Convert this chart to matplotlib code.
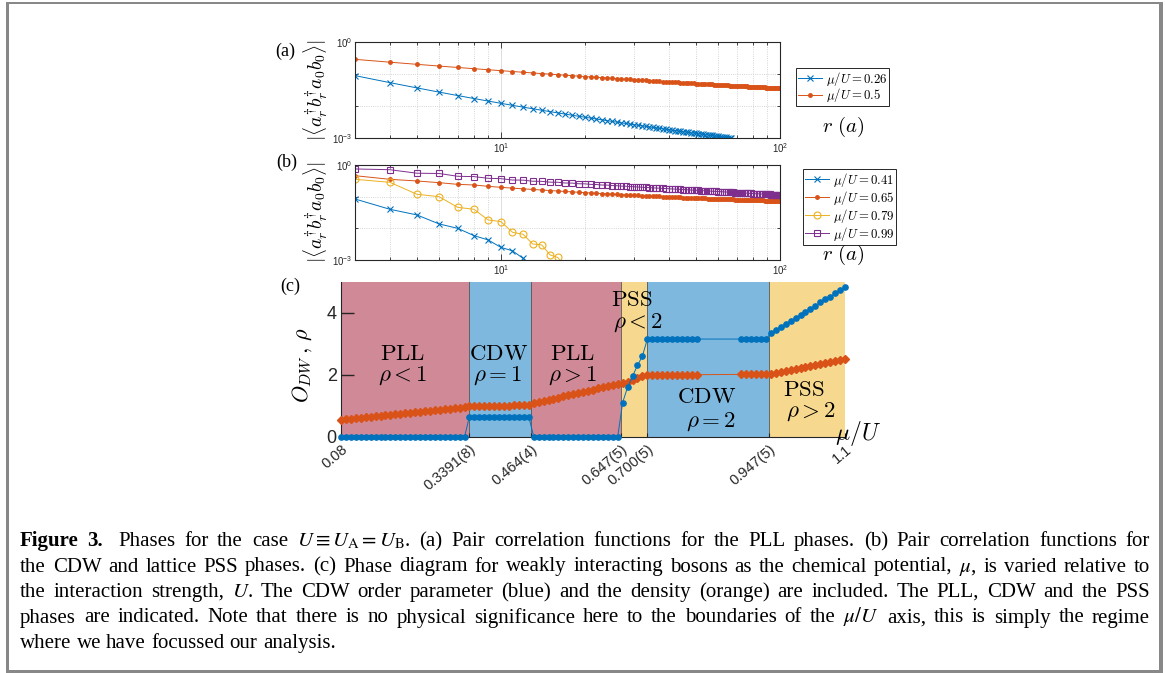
import matplotlib
matplotlib.use('Agg')
import matplotlib.pyplot as plt
from matplotlib.ticker import FixedLocator, NullFormatter
from matplotlib.patches import Rectangle

W, H = 1165, 673

# ---------------- data ----------------
# (a) pair correlations, r = 3 .. 100
r_all = list(range(3, 101))
r_a_026 = list(range(3, 68))
corr_a_026 = [0.0891, 0.0537, 0.0368, 0.0272, 0.0212, 0.01714, 0.01427, 0.01213,
              0.01050, 0.00923, 0.00820, 0.00736, 0.00666, 0.00608, 0.00558, 0.00515, 0.00478, 0.00445,
              0.00417, 0.00391, 0.00369, 0.00348, 0.00330, 0.00313, 0.00298, 0.00284, 0.00272, 0.00260,
              0.00250, 0.00240, 0.00231, 0.00222, 0.00214, 0.00207, 0.00200, 0.00194, 0.00187, 0.00182,
              0.00176, 0.00171, 0.00167, 0.00162, 0.00158, 0.00154, 0.00150, 0.00146, 0.00143, 0.00139,
              0.00136, 0.00133, 0.00130, 0.00127, 0.00125, 0.00122, 0.00120, 0.00117, 0.00115, 0.00113,
              0.00111, 0.00109, 0.00107, 0.00105, 0.00103, 0.00102, 0.00100]
corr_a_050 = [0.287, 0.234, 0.2006, 0.1773, 0.1600, 0.1466, 0.1359, 0.1271,
              0.1197, 0.1133, 0.1079, 0.1030, 0.0989, 0.0951, 0.0917, 0.0886, 0.0858, 0.0833,
              0.0809, 0.0788, 0.0768, 0.0750, 0.0732, 0.0716, 0.0701, 0.0687, 0.0674, 0.0661,
              0.0649, 0.0638, 0.0627, 0.0617, 0.0607, 0.0598, 0.0589, 0.0581, 0.0573, 0.0565,
              0.0557, 0.0550, 0.0544, 0.0537, 0.0531, 0.0525, 0.0519, 0.0513, 0.0507, 0.0502,
              0.0497, 0.0492, 0.0487, 0.0483, 0.0478, 0.0474, 0.0470, 0.0465, 0.0461, 0.0457,
              0.0454, 0.0450, 0.0446, 0.0443, 0.0439, 0.0436, 0.0433, 0.0430, 0.0426, 0.0423,
              0.0420, 0.0418, 0.0415, 0.0412, 0.0409, 0.0407, 0.0404, 0.0401, 0.0399, 0.0397,
              0.0394, 0.0392, 0.0390, 0.0387, 0.0385, 0.0383, 0.0381, 0.0379, 0.0377, 0.0375,
              0.0373, 0.0371, 0.0369, 0.0367, 0.0365, 0.0363, 0.0361, 0.0360, 0.0358, 0.0356]

# (b) pair correlations
r_b_041 = list(range(3, 14))
corr_b_041 = [0.0845, 0.040, 0.0265, 0.0138, 0.0100, 0.0059, 0.0043, 0.0025, 0.00195, 0.00113, 0.00065]
r_b_079 = list(range(3, 18))
corr_b_079 = [0.353, 0.284, 0.119, 0.100, 0.046, 0.040, 0.0184, 0.0163, 0.0075, 0.0065,
              0.0032, 0.0030, 0.00145, 0.0012, 0.00055]
corr_b_065 = [0.460, 0.353, 0.313, 0.277, 0.245, 0.234, 0.212, 0.197,
              0.1862, 0.1769, 0.1690, 0.1621, 0.1560, 0.1506, 0.1459, 0.1416, 0.1376, 0.1341,
              0.1309, 0.1280, 0.1253, 0.1227, 0.1204, 0.1182, 0.1162, 0.1143, 0.1125, 0.1108,
              0.1092, 0.1078, 0.1064, 0.1050, 0.1038, 0.1026, 0.1014, 0.1003, 0.0993, 0.0983,
              0.0974, 0.0965, 0.0956, 0.0947, 0.0939, 0.0932, 0.0924, 0.0917, 0.0911, 0.0904,
              0.0897, 0.0891, 0.0885, 0.0880, 0.0874, 0.0869, 0.0863, 0.0858, 0.0854, 0.0849,
              0.0844, 0.0840, 0.0835, 0.0831, 0.0827, 0.0823, 0.0819, 0.0815, 0.0811, 0.0808,
              0.0804, 0.0801, 0.0797, 0.0794, 0.0791, 0.0788, 0.0785, 0.0782, 0.0779, 0.0776,
              0.0774, 0.0771, 0.0768, 0.0766, 0.0763, 0.0761, 0.0759, 0.0756, 0.0754, 0.0752,
              0.0749, 0.0747, 0.0745, 0.0743, 0.0741, 0.0739, 0.0737, 0.0735, 0.0733, 0.0731]
corr_b_099 = [0.75, 0.71, 0.55, 0.54, 0.44, 0.43, 0.38, 0.37,
              0.335, 0.333, 0.307, 0.305, 0.287, 0.285, 0.270, 0.268, 0.256, 0.254,
              0.244, 0.242, 0.233, 0.232, 0.224, 0.222, 0.215, 0.214, 0.208, 0.206,
              0.2018, 0.1987, 0.1956, 0.1927, 0.1900, 0.1873, 0.1848, 0.1823, 0.1800, 0.1777,
              0.1755, 0.1734, 0.1714, 0.1694, 0.1675, 0.1657, 0.1639, 0.1622, 0.1605, 0.1589,
              0.1573, 0.1558, 0.1543, 0.1529, 0.1515, 0.1501, 0.1488, 0.1476, 0.1463, 0.1451,
              0.1439, 0.1427, 0.1416, 0.1405, 0.1394, 0.1383, 0.1373, 0.1363, 0.1353, 0.1343,
              0.1334, 0.1324, 0.1315, 0.1306, 0.1297, 0.1289, 0.1280, 0.1272, 0.1264, 0.1256,
              0.1248, 0.1241, 0.1233, 0.1226, 0.1219, 0.1211, 0.1204, 0.1197, 0.1191, 0.1184,
              0.1178, 0.1171, 0.1165, 0.1159, 0.1153, 0.1147, 0.1141, 0.1135, 0.1129, 0.1124]

# (c) phase diagram
mu_c = [k / 100 for k in range(8, 81)] + [k / 100 for k in range(89, 111)]
odw_c = ([0.0] * 26 + [0.65] * 13 + [0.0] * 18 +
         [1.10, 1.60, 1.95, 2.30, 2.60] + [3.15] * 11 + [3.15] * 6 +
         [3.34, 3.44, 3.54, 3.64, 3.73, 3.83, 3.93, 4.03, 4.13, 4.23, 4.33, 4.43, 4.52, 4.62, 4.72, 4.82])
rho_c = ([0.540, 0.556, 0.573, 0.589, 0.606, 0.622, 0.638, 0.655, 0.671, 0.688, 0.704, 0.720, 0.737,
          0.753, 0.770, 0.786, 0.802, 0.819, 0.835, 0.852, 0.868, 0.884, 0.901, 0.917, 0.934, 0.950] +
         [0.99, 0.99, 0.995, 1.0, 1.0, 1.0, 1.0, 1.0, 1.005, 1.01, 1.01, 1.01, 1.02] +
         [1.080, 1.117, 1.153, 1.190, 1.226, 1.263, 1.299, 1.336, 1.372, 1.409, 1.445, 1.482,
          1.518, 1.555, 1.591, 1.628, 1.664, 1.700] +
         [1.73, 1.78, 1.84, 1.89, 1.95] + [2.0] * 11 + [2.01] * 6 +
         [2.03, 2.06, 2.09, 2.12, 2.16, 2.19, 2.22, 2.25, 2.28, 2.31, 2.34, 2.38, 2.41, 2.44, 2.47, 2.50])

phase_edges = [0.08, 0.3391, 0.464, 0.647, 0.700, 0.947, 1.1]
edge_labels = ['0.08', '0.3391(8)', '0.464(4)', '0.647(5)', '0.700(5)', '0.947(5)', '1.1']
phase_names = [r'$\mathrm{PLL}$', r'$\mathrm{CDW}$', r'$\mathrm{PLL}$', r'$\mathrm{PSS}$', r'$\mathrm{CDW}$', r'$\mathrm{PSS}$']
phase_rho = [r'$\rho<1$', r'$\rho{=}1$', r'$\rho>1$', r'$\rho<2$', r'$\rho=2$', r'$\rho>2$']
name_pos = [(0.205, 2.69), (0.398, 2.69), (0.548, 2.69), (0.668, 4.42), (0.820, 1.29), (1.017, 1.53)]
rho_pos = [(0.205, 1.99), (0.398, 1.99), (0.548, 1.99), (0.682, 3.69), (0.828, 0.48), (1.031, 0.81)]

caption = [
    r"Phases for the case $U\equiv{}U_\mathrm{A}=U_\mathrm{B}$. (a) Pair correlation functions for the PLL phases. (b) Pair correlation functions for",
    r"the CDW and lattice PSS phases. (c) Phase diagram for weakly interacting bosons as the chemical potential, $\mu$, is varied relative to",
    r"the interaction strength, $U$. The CDW order parameter (blue) and the density (orange) are included. The PLL, CDW and the PSS",
    r"phases are indicated. Note that there is no physical significance here to the boundaries of the $\mu/U$ axis, this is simply the regime",
    r"where we have focussed our analysis.",
]

# ---------------- style ----------------
BLUE, ORANGE, YELLOW, PURPLE = '#0072BD', '#D95319', '#EDB120', '#7E2F8E'
PHASE_COLORS = ['#D08997', '#7FB8DE', '#D08997', '#F6D88F', '#7FB8DE', '#F6D88F']
DARK = '#262626'

plt.rcParams['font.family'] = 'Liberation Sans'
plt.rcParams['mathtext.fontset'] = 'custom'
plt.rcParams['mathtext.rm'] = 'Liberation Sans'
plt.rcParams['mathtext.it'] = 'Liberation Sans:italic'
plt.rcParams['mathtext.bf'] = 'Liberation Sans:bold'


def rect(l, t, r, b):
    return [l / W, 1 - b / H, (r - l) / W, (b - t) / H]


def ftext(x, y, s, **kw):
    return fig.text(x / W, 1 - y / H, s, **kw)


fig = plt.figure(figsize=(W / 100, H / 100), dpi=100)


def corr_axes(box):
    ax = fig.add_axes(rect(*box))
    ax.set_xscale('log')
    ax.set_yscale('log')
    ax.set_xlim(3, 100)
    ax.set_ylim(1e-3, 1)
    ax.set_xticks([10, 100], [r'$10^{1}$', r'$10^{2}$'])
    ax.set_yticks([1e-3, 1], [r'$10^{-3}$', r'$10^{0}$'])
    ax.xaxis.set_minor_locator(FixedLocator([k * d for d in (1, 10) for k in range(2, 10)]))
    ax.yaxis.set_minor_locator(FixedLocator([1e-2, 1e-1]))
    ax.xaxis.set_minor_formatter(NullFormatter())
    ax.yaxis.set_minor_formatter(NullFormatter())
    ax.grid(True, which='major', color='#d8d8d8', lw=0.6, ls='-')
    ax.grid(True, which='minor', color='#c8c8c8', lw=0.6, ls=':')
    ax.set_axisbelow(True)
    ax.tick_params(which='both', direction='in', top=True, right=True,
                   labelsize=7, color=DARK, labelcolor=DARK, width=0.6, pad=2)
    ax.tick_params(which='major', length=4)
    ax.tick_params(which='minor', length=2)
    for s in ax.spines.values():
        s.set_color(DARK)
        s.set_linewidth(0.8)
    return ax


ylab = r'$|\langle a_r^{\dagger} b_r^{\dagger} a_0 b_0\rangle|$'
leg_kw = dict(loc='upper left', bbox_transform=fig.transFigure, fancybox=False, edgecolor=DARK,
              framealpha=1, borderaxespad=0, borderpad=0.15, handlelength=1.9, handletextpad=0.3,
              fontsize=9.2)

# (a)
ax_a = corr_axes((355, 42, 780, 138))
ax_a.plot(r_a_026, corr_a_026, ls='-', marker='x', color=BLUE, lw=0.7, ms=5, mew=0.8,
          label=r'$\mu/U{=}0.26$')
ax_a.plot(r_all, corr_a_050, ls='-', marker='.', color=ORANGE, lw=0.7, ms=5,
          label=r'$\mu/U{=}0.5$')
leg_a = ax_a.legend(bbox_to_anchor=(796 / W, 1 - 68 / H), labelspacing=-0.15, **leg_kw)
ftext(316, 90, ylab, rotation=90, ha='center', va='center', fontsize=14, math_fontfamily='cm')
ftext(285, 51, '(a)', ha='center', va='center', fontsize=13, family='Liberation Serif')
ftext(843, 127, r'$r\ (a)$', ha='center', va='center', fontsize=15, math_fontfamily='cm')

# (b)
ax_b = corr_axes((355, 165, 780, 260))
ax_b.plot(r_b_041, corr_b_041, ls='-', marker='x', color=BLUE, lw=0.7, ms=5, mew=0.8,
          label=r'$\mu/U{=}0.41$')
ax_b.plot(r_all, corr_b_065, ls='-', marker='.', color=ORANGE, lw=0.7, ms=5,
          label=r'$\mu/U{=}0.65$')
ax_b.plot(r_b_079, corr_b_079, ls='-', marker='o', color=YELLOW, lw=0.7, ms=5, mfc='none', mew=0.8,
          label=r'$\mu/U{=}0.79$')
ax_b.plot(r_all, corr_b_099, ls='-', marker='s', color=PURPLE, lw=0.7, ms=4, mfc='none', mew=0.8,
          label=r'$\mu/U{=}0.99$')
leg_b = ax_b.legend(bbox_to_anchor=(803 / W, 1 - 169 / H), labelspacing=0.0, **leg_kw)
ftext(316, 212, ylab, rotation=90, ha='center', va='center', fontsize=14, math_fontfamily='cm')
ftext(287, 162, '(b)', ha='center', va='center', fontsize=13, family='Liberation Serif')
ftext(843, 255, r'$r\ (a)$', ha='center', va='center', fontsize=15, math_fontfamily='cm')

for leg in (leg_a, leg_b):
    leg.get_frame().set_linewidth(0.7)
    for t in leg.get_texts():
        t.set_math_fontfamily('cm')

# (c)
ax_c = fig.add_axes(rect(341, 281.7, 845, 436.7))
for lo, hi, col in zip(phase_edges[:-1], phase_edges[1:], PHASE_COLORS):
    ax_c.axvspan(lo, hi, color=col, lw=0, zorder=0)
for e in phase_edges[1:-1]:
    ax_c.axvline(e, color='#555555', lw=0.6, zorder=0.5)
ax_c.plot(mu_c, rho_c, ls='-', marker='D', color=ORANGE, lw=0.7, ms=4.2, zorder=3, clip_on=False)
ax_c.plot(mu_c, odw_c, ls='-', marker='o', color=BLUE, lw=0.7, ms=3.8, zorder=4, clip_on=False)
ax_c.set_xlim(0.08, 1.1)
ax_c.set_ylim(0, 5)
ax_c.set_xticks(phase_edges, edge_labels, rotation=40, ha='right', rotation_mode='anchor')
ax_c.set_yticks([0, 2, 4])
ax_c.tick_params(axis='x', direction='in', length=3, width=0.8, color=DARK, labelcolor=DARK,
                 labelsize=10.5, pad=4)
ax_c.tick_params(axis='y', direction='in', length=9, width=1.0, color=DARK, labelcolor=DARK,
                 labelsize=13, pad=3)
for side in ('top', 'right'):
    ax_c.spines[side].set_visible(False)
for side in ('left', 'bottom'):
    ax_c.spines[side].set_color(DARK)
    ax_c.spines[side].set_linewidth(0.8)
for name, rho, (nx, ny), (rx, ry) in zip(phase_names, phase_rho, name_pos, rho_pos):
    ax_c.text(nx, ny, name, ha='center', va='center', fontsize=16.5, math_fontfamily='cm', zorder=5)
    ax_c.text(rx, ry, rho, ha='center', va='center', fontsize=16.5, math_fontfamily='cm', zorder=5)
ftext(302, 365, r'$O_{DW}\,,\,\rho$', rotation=90, ha='center', va='center', fontsize=16,
      math_fontfamily='cm')
ftext(858, 433, r'$\mu/U$', ha='center', va='center', fontsize=17, math_fontfamily='cm')
ftext(290, 286, '(c)', ha='center', va='center', fontsize=13, family='Liberation Serif')

# ---------------- caption ----------------
CAP_FS = 15
CAP_X0, CAP_X1 = 20, 1150
cap_base = [546, 571.5, 597, 622.5, 648]
renderer = fig.canvas.get_renderer()


def place_line(line, y, justify, bold=None):
    words = ([(w, 'bold') for w in bold] if bold else []) + [(w, 'normal') for w in line.split(' ')]
    texts = [ftext(0, y, w, fontsize=CAP_FS, family='Liberation Serif', fontweight=wt,
                   math_fontfamily='stix', va='baseline', ha='left') for w, wt in words]
    widths = [t.get_window_extent(renderer).width for t in texts]
    extra = 6 if bold else 0
    if justify:
        gap = (CAP_X1 - CAP_X0 - sum(widths) - extra) / (len(words) - 1)
    else:
        gap = 0.25 * CAP_FS * 100 / 72
    x = CAP_X0
    nb = len(bold) if bold else 0
    for i, (t, w) in enumerate(zip(texts, widths)):
        t.set_x(x / W)
        x += w + gap + (extra if i == nb - 1 else 0)


for i, (line, y) in enumerate(zip(caption, cap_base)):
    place_line(line, y, justify=i < len(caption) - 1, bold=['Figure', '3.'] if i == 0 else None)

# frame
for x0, y0, x1, y1 in [(6, 2, 8.5, 673), (6, 2, 1163, 3.5), (1159, 2, 1163, 673), (6, 670, 1163, 673)]:
    fig.add_artist(Rectangle((x0 / W, 1 - y1 / H), (x1 - x0) / W, (y1 - y0) / H,
                             transform=fig.transFigure, facecolor='#888888', edgecolor='none'))

fig.savefig('out.png', dpi=100)
